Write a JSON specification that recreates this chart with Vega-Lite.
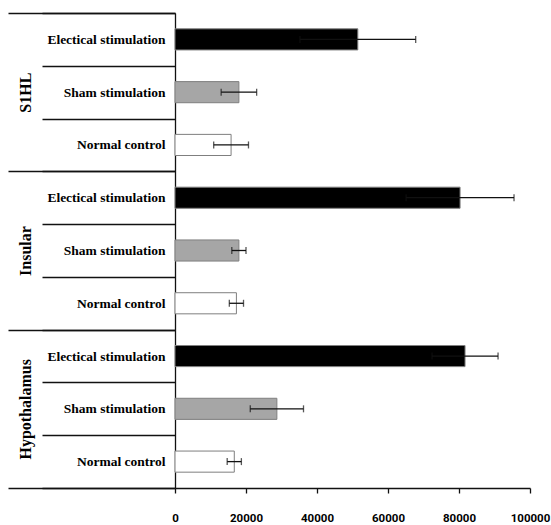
{
  "$schema": "https://vega.github.io/schema/vega-lite/v6.json",
  "width": 355,
  "height": 475,
  "autosize": {"type": "pad"},
  "padding": {"left": 7, "top": 6, "right": 5, "bottom": 2},
  "background": "white",
  "config": {"view": {"stroke": null}},
  "data": {
    "values": [
      {"group": "S1HL", "cond": "Electical stimulation", "key": "S1HL|Electical stimulation", "value": 51500, "lo": 35200, "hi": 67800},
      {"group": "S1HL", "cond": "Sham stimulation", "key": "S1HL|Sham stimulation", "value": 18000, "lo": 13000, "hi": 23000},
      {"group": "S1HL", "cond": "Normal control", "key": "S1HL|Normal control", "value": 15800, "lo": 10900, "hi": 20700},
      {"group": "Insular", "cond": "Electical stimulation", "key": "Insular|Electical stimulation", "value": 80300, "lo": 65100, "hi": 95500},
      {"group": "Insular", "cond": "Sham stimulation", "key": "Insular|Sham stimulation", "value": 18000, "lo": 16000, "hi": 20000},
      {"group": "Insular", "cond": "Normal control", "key": "Insular|Normal control", "value": 17300, "lo": 15300, "hi": 19300},
      {"group": "Hypothalamus", "cond": "Electical stimulation", "key": "Hypothalamus|Electical stimulation", "value": 81700, "lo": 72400, "hi": 91000},
      {"group": "Hypothalamus", "cond": "Sham stimulation", "key": "Hypothalamus|Sham stimulation", "value": 28700, "lo": 21200, "hi": 36200},
      {"group": "Hypothalamus", "cond": "Normal control", "key": "Hypothalamus|Normal control", "value": 16700, "lo": 14700, "hi": 18700}
    ]
  },
  "layer": [
    {
      "mark": {"type": "point", "opacity": 0},
      "encoding": {
        "x": {"field": "value", "type": "quantitative", "title": null, "scale": {"domain": [0, 100000], "nice": false}},
        "y": {
          "field": "group", "type": "nominal", "sort": ["S1HL", "Insular", "Hypothalamus"],
          "scale": {"paddingInner": 0, "paddingOuter": 0},
          "axis": {
            "orient": "left", "title": null, "domain": false,
            "tickBand": "extent", "tickSize": 167, "tickColor": "#111", "tickWidth": 1.3,
            "labelAngle": -90, "labelAlign": "center", "labelBaseline": "middle", "labelPadding": -17,
            "labelFont": "Liberation Serif", "labelFontWeight": "bold", "labelFontSize": 16, "labelColor": "black"
          }
        }
      }
    },
    {
      "encoding": {
        "y": {
          "field": "key", "type": "nominal",
          "sort": ["S1HL|Electical stimulation", "S1HL|Sham stimulation", "S1HL|Normal control", "Insular|Electical stimulation", "Insular|Sham stimulation", "Insular|Normal control", "Hypothalamus|Electical stimulation", "Hypothalamus|Sham stimulation", "Hypothalamus|Normal control"],
          "scale": {"paddingInner": 0, "paddingOuter": 0},
          "axis": {
            "orient": "left", "title": null, "domain": true, "domainColor": "#111", "domainWidth": 1.3,
            "tickBand": "extent", "tickSize": 133, "tickColor": "#111", "tickWidth": 1.3,
            "labelExpr": "split(datum.value, '|')[1]",
            "labelAlign": "right", "labelBaseline": "middle", "labelPadding": -123,
            "labelFont": "Liberation Serif", "labelFontWeight": "bold", "labelFontSize": 13.5, "labelColor": "black"
          }
        }
      },
      "layer": [
        {
          "mark": {"type": "bar", "height": {"band": 0.4}, "stroke": "#7f7f7f", "strokeWidth": 1},
          "encoding": {
            "x": {
              "field": "value", "type": "quantitative", "title": null,
              "scale": {"domain": [0, 100000], "nice": false},
              "axis": {
                "values": [0, 20000, 40000, 60000, 80000, 100000], "format": "d",
                "grid": false, "domainColor": "#111", "domainWidth": 1.3,
                "tickColor": "#111", "tickWidth": 1.3, "tickSize": 5,
                "labelPadding": 19, "labelFlush": false,
                "labelFont": "Roboto", "labelFontWeight": "bold", "labelFontSize": 11.5, "labelColor": "black"
              }
            },
            "fill": {
              "field": "cond", "type": "nominal",
              "scale": {"domain": ["Electical stimulation", "Sham stimulation", "Normal control"], "range": ["#000000", "#a6a6a6", "#ffffff"]},
              "legend": null
            }
          }
        },
        {
          "mark": {"type": "rule", "color": "#111", "strokeWidth": 1.3},
          "encoding": {
            "x": {"field": "lo", "type": "quantitative", "title": null},
            "x2": {"field": "hi"}
          }
        },
        {
          "mark": {"type": "tick", "color": "#111", "size": 7, "thickness": 1.3},
          "encoding": {
            "x": {"field": "lo", "type": "quantitative", "title": null}
          }
        },
        {
          "mark": {"type": "tick", "color": "#111", "size": 7, "thickness": 1.3},
          "encoding": {
            "x": {"field": "hi", "type": "quantitative", "title": null}
          }
        }
      ]
    }
  ],
  "resolve": {"scale": {"y": "independent"}}
}
